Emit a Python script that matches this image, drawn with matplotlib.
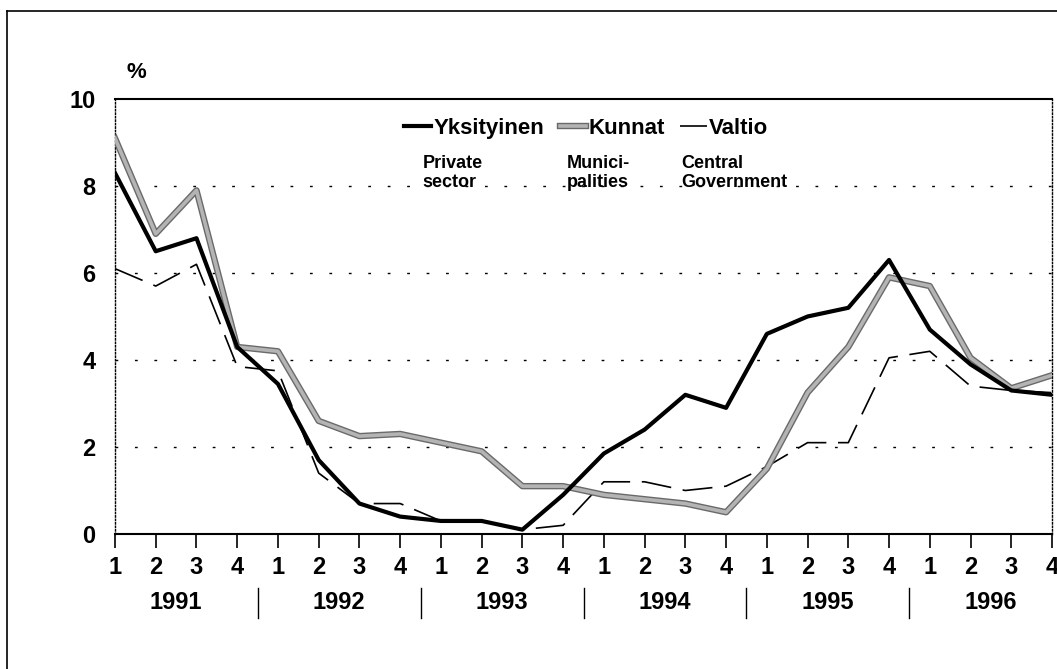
import numpy as np
import matplotlib.pyplot as plt
import matplotlib.patheffects as pe
from matplotlib.lines import Line2D
import matplotlib.transforms as mtransforms

plt.rcParams['font.family'] = ['Liberation Sans Narrow', 'Liberation Sans', 'DejaVu Sans']
plt.rcParams['font.weight'] = 'bold'

# Ansiotason muutos, % (neljännesvuosittain)
years = ['1991', '1992', '1993', '1994', '1995', '1996']
quarters = ['1', '2', '3', '4']
yksityinen = [8.3, 6.5, 6.8, 4.3, 3.45, 1.7, 0.7, 0.4, 0.3, 0.3, 0.1, 0.9,
              1.85, 2.4, 3.2, 2.9, 4.6, 5.0, 5.2, 6.3, 4.7, 3.9, 3.3, 3.2]
kunnat = [9.1, 6.9, 7.9, 4.3, 4.2, 2.6, 2.25, 2.3, 2.1, 1.9, 1.1, 1.1,
          0.9, 0.8, 0.7, 0.5, 1.5, 3.25, 4.3, 5.9, 5.7, 4.05, 3.35, 3.65]
valtio = [6.1, 5.7, 6.2, 3.85, 3.75, 1.4, 0.7, 0.7, 0.3, 0.3, 0.1, 0.2,
          1.2, 1.2, 1.0, 1.1, 1.55, 2.1, 2.1, 4.05, 4.2, 3.4, 3.3, 3.25]
legend_names = ['Yksityinen', 'Kunnat', 'Valtio']
english_names = ['Private\nsector', 'Munici-\npalities', 'Central\nGovernment']
english_x = [7.55, 11.1, 13.9]

x = np.arange(len(yksityinen))

fig = plt.figure(figsize=(10.57, 6.69), dpi=100)
ax = fig.add_axes([115 / 1057, 1 - 534 / 669, 937 / 1057, 435 / 669])

ax.plot(x, kunnat, color='#b4b4b4', lw=2.6, label=legend_names[1],
        path_effects=[pe.Stroke(linewidth=4.6, foreground='#6a6a6a'), pe.Normal()], zorder=3)
ax.plot(x, valtio, color='black', lw=1.2, dashes=(18, 7), label=legend_names[2], zorder=2)
ax.plot(x, yksityinen, color='black', lw=3, label=legend_names[0], zorder=4)

ax.set_xlim(0, len(x) - 1)
ax.set_ylim(0, 10)

ax.set_yticks([0, 2, 4, 6, 8, 10])
ax.set_yticklabels(['0', '2', '4', '6', '8', '10'])
ax.tick_params(axis='y', length=0, pad=14, labelsize=17)
ax.set_xticks(x)
ax.set_xticklabels(quarters * len(years))
ax.tick_params(axis='x', length=10, width=1.2, direction='out', pad=6, labelsize=17)

for yv in [2, 4, 6, 8]:
    ax.axhline(yv, color='black', lw=1, dashes=(2, 12), zorder=1)

for s in ['left', 'right']:
    ax.spines[s].set_linestyle((0, (1, 1.5)))
    ax.spines[s].set_linewidth(1)
ax.spines['top'].set_linewidth(1.5)
ax.spines['bottom'].set_linewidth(1.5)

# vuodet ja erottimet
trans = mtransforms.blended_transform_factory(ax.transData, ax.transAxes)
for k, yr in enumerate(years):
    ax.text(4 * k + 1.5, -0.158, yr, transform=trans, ha='center', va='center', fontsize=17)
    if k > 0:
        ax.plot([4 * k - 0.5] * 2, [-0.124, -0.194], transform=trans, color='black',
                lw=1, clip_on=False)

handles = ax.get_legend_handles_labels()
order = [2, 0, 1]
leg = ax.legend([handles[0][i] for i in order], [handles[1][i] for i in order],
                ncol=3, loc='center left', bbox_to_anchor=(0.297, 0.933), frameon=False,
                borderpad=0, handlelength=1.2, handletextpad=0.1, columnspacing=0.7,
                prop={'size': 16, 'weight': 'bold'})

for name, xe in zip(english_names, english_x):
    ax.text(xe, 8.72, name, ha='left', va='top', fontsize=13, linespacing=1.15)

ax.text(0.012, 1.06, '%', transform=ax.transAxes, ha='left', va='center', fontsize=16)

# kehys
fig.add_artist(Line2D([7 / 1057, 1], [1 - 11 / 669] * 2, color='black', lw=1.2))
fig.add_artist(Line2D([7 / 1057] * 2, [0, 1 - 11 / 669], color='black', lw=1.2))

plt.savefig('out.png', dpi=100)
